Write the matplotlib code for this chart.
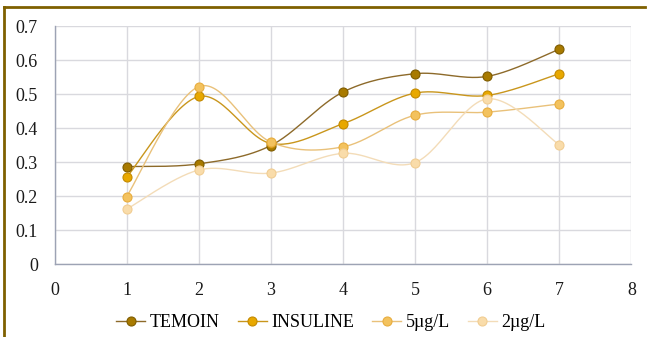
import numpy as np
import matplotlib
matplotlib.use("Agg")
import matplotlib.pyplot as plt
from matplotlib.lines import Line2D

plt.rcParams['font.family'] = ['Liberation Serif', 'DejaVu Serif']

jours = [1, 2, 3, 4, 5, 6, 7]
temoin = [0.287, 0.295, 0.349, 0.506, 0.560, 0.552, 0.632]
insuline = [0.256, 0.493, 0.355, 0.413, 0.503, 0.496, 0.560]
dose_5 = [0.199, 0.522, 0.359, 0.345, 0.438, 0.447, 0.471]
dose_2 = [0.162, 0.277, 0.268, 0.326, 0.299, 0.486, 0.351]

noms = ["TEMOIN", "INSULINE", "5µg/L", "2µg/L"]
series = [temoin, insuline, dose_5, dose_2]
# (ligne, remplissage, bord)
couleurs = [("#8d6a2a", "#a87a00", "#7f5c00"),
            ("#c9961c", "#e8a800", "#c48a00"),
            ("#e9c17a", "#f3c25e", "#e8ad3e"),
            ("#f3dcb8", "#f9dcaa", "#f1cd92")]


def lisse(x, y, n=30):
    # courbe lissée façon tableur (Bézier, tangentes Catmull-Rom)
    x = np.asarray(x, float); y = np.asarray(y, float)
    px, py = [], []
    for i in range(len(x) - 1):
        x0, y0 = (x[i - 1], y[i - 1]) if i > 0 else (x[i], y[i])
        x3, y3 = (x[i + 2], y[i + 2]) if i + 2 < len(x) else (x[i + 1], y[i + 1])
        c1 = (x[i] + (x[i + 1] - x0) / 6, y[i] + (y[i + 1] - y0) / 6)
        c2 = (x[i + 1] - (x3 - x[i]) / 6, y[i + 1] - (y3 - y[i]) / 6)
        t = np.linspace(0, 1, n)
        a, b, c, d = (1 - t) ** 3, 3 * (1 - t) ** 2 * t, 3 * (1 - t) * t ** 2, t ** 3
        px.extend(a * x[i] + b * c1[0] + c * c2[0] + d * x[i + 1])
        py.extend(a * y[i] + b * c1[1] + c * c2[1] + d * y[i + 1])
    return px, py


fig = plt.figure(figsize=(6.49, 3.37), dpi=100)
ax = fig.add_axes([0.084, 0.2157, 0.889, 0.7071])

for nom, ys, (cl, cf, cb) in zip(noms, series, couleurs):
    sx, sy = lisse(jours, ys)
    ax.plot(sx, sy, color=cl, lw=1.0, zorder=2)
    ax.plot(jours, ys, ls="none", marker="o", ms=6.5, mfc=cf, mec=cb, mew=0.8, zorder=3)

ax.set_xlim(0, 8)
ax.set_ylim(0, 0.7)
ax.set_xticks(range(0, 9))
ax.set_yticks(np.arange(0, 0.71, 0.1))
ax.set_yticklabels(["0", "0.1", "0.2", "0.3", "0.4", "0.5", "0.6", "0.7"])
ax.grid(True, color="#d9d9de", lw=1.0)
ax.set_axisbelow(True)
for s in ["top", "right"]:
    ax.spines[s].set_visible(False)
for s in ["left", "bottom"]:
    ax.spines[s].set_color("#9da3b4")
    ax.spines[s].set_linewidth(1.0)
ax.tick_params(length=0, labelsize=13, colors="#1a1a1a")
ax.tick_params(axis="y", pad=12)
ax.tick_params(axis="x", pad=13)

poignees = [Line2D([], [], color=cl, lw=1.0, marker="o", ms=6.5, mfc=cf, mec=cb, mew=0.8)
            for cl, cf, cb in couleurs]
fig.legend(poignees, noms, loc="center", bbox_to_anchor=(0.51, 0.043), ncol=4,
           frameon=False, fontsize=13, handlelength=1.6, handletextpad=0.25,
           columnspacing=1.0, borderaxespad=0)

# cadre brun en haut et à gauche
fig.add_artist(Line2D([0.006, 0.994], [0.979, 0.979], color="#7f6000", lw=2.0))
fig.add_artist(Line2D([0.006, 0.006], [0.979, 0.0], color="#7f6000", lw=2.0))

fig.savefig("out.png", dpi=100)
